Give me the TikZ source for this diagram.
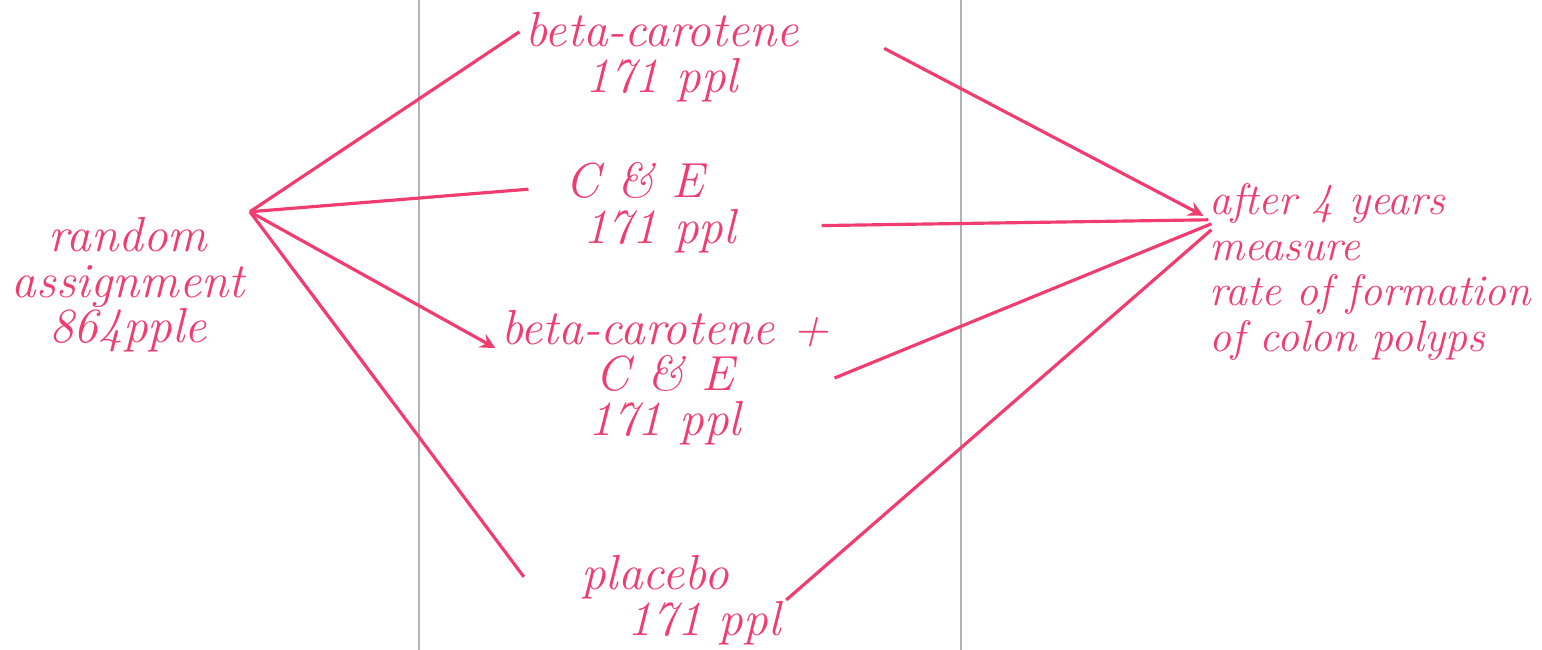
\documentclass[tikz,border=0pt]{standalone}
\usepackage{xcolor}
\usepackage{tikz}
\usetikzlibrary{positioning}
\definecolor{ink}{RGB}{240,60,110}
\tikzset{lbl/.style={ink,font=\fontsize{14}{13}\selectfont\itshape,align=center,inner sep=0.05cm}}
\tikzset{pen/.style={ink,line width=0.9pt}}

\begin{document}
\begin{tikzpicture}[>=stealth]
    \useasboundingbox (0,0) rectangle (15.42,6.5);
    \draw[gray!60,line width=0.8pt] (4.19,0) -- (4.19,6.5);
    \draw[gray!60,line width=0.5pt] (9.61,0) -- (9.61,6.5);

    \node[lbl] (rand) at (1.28,3.65) {random\\assignment\\864pple};
    \node[lbl] (beta) at (6.62,5.93) {beta-carotene\\171 ppl};
    \node[lbl] (ce) at (6.35,4.42) {C \& E\\\quad 171 ppl};
    \node[lbl] (both) at (6.65,2.72) {beta-carotene +\\C \& E\\171 ppl};
    \node[lbl] (plac) at (6.55,0.50) {placebo\\\qquad 171 ppl};
    \node[lbl,font=\fontsize{12.5}{13}\selectfont\itshape,align=left] (meas) at (13.70,3.78) {after 4 years\\measure\\rate of formation\\of colon polyps};

    \draw [pen] (rand.north east) to [] (beta.170);
    \draw [pen] (rand.north east) to [] (ce.170);
    \draw [pen,->] (rand.north east) to [] (both.170);
    \draw [pen] (rand.north east) to [] (plac.170);
    \draw [pen,->,shorten <=0.9cm] (beta.north east) to [] ([yshift=-0.38cm]meas.north west);
    \draw [pen,shorten <=0.8cm] (ce.-10) to [] ([xshift=0.05cm,yshift=-0.42cm]meas.north west);
    \draw [pen] (both.east) to [] ([xshift=0.08cm,yshift=-0.46cm]meas.north west);
    \draw [pen] (plac.east) to [] ([xshift=0.08cm,yshift=-0.52cm]meas.north west);
\end{tikzpicture}
\end{document}
